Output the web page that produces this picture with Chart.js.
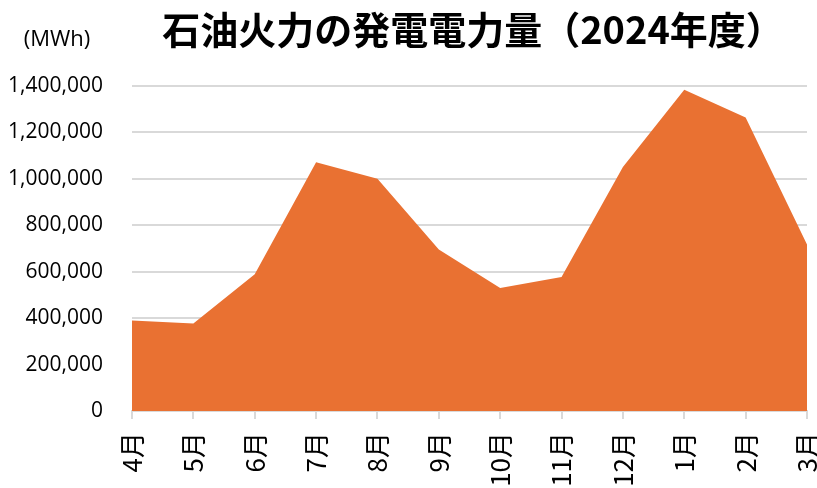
<!DOCTYPE html>
<html>
<head>
<meta charset="utf-8">
<script src="https://cdn.jsdelivr.net/npm/chart.js@4"></script>
<style>
  html, body { margin: 0; padding: 0; background: #fff; }
  #wrap { width: 817px; height: 488px; position: relative; }
</style>
</head>
<body>
<div id="wrap"><canvas id="oilChart"></canvas></div>
<script>
  // 石油火力の発電電力量 (MWh), 2024年度
  const months = ['4月', '5月', '6月', '7月', '8月', '9月', '10月', '11月', '12月', '1月', '2月', '3月'];
  const generation = [390000, 377000, 589000, 1072000, 1001000, 696000, 530000, 577000, 1051000, 1384000, 1264000, 717000];
  const yTicks = [0, 200000, 400000, 600000, 800000, 1000000, 1200000, 1400000];

  const chartTitle = '石油火力の発電電力量（2024年度）';
  const unitLabel = '(MWh)';

  const fontJP = '"Noto Sans CJK JP", "Noto Sans", sans-serif';
  const fontNum = '"Open Sans", "Noto Sans", sans-serif';

  const headerPlugin = {
      id: 'header',
      afterDraw: (chart) => {
          const ctx = chart.ctx;
          ctx.save();
          ctx.fillStyle = '#000';
          ctx.textBaseline = 'middle';
          ctx.textAlign = 'center';
          ctx.font = 'bold 38px ' + fontJP;
          ctx.fillText(chartTitle, 473, 30);
          ctx.font = '22px ' + fontNum;
          ctx.fillText(unitLabel, 57, 40);
          ctx.restore();
      }
  };

  const ctx = document.getElementById('oilChart').getContext('2d');
  const oilChart = new Chart(ctx, {
      type: 'line',
      data: {
          labels: months,
          datasets: [{
              label: '石油火力',
              data: generation,
              backgroundColor: '#E97132',
              borderWidth: 0,
              pointRadius: 0,
              tension: 0,
              fill: 'origin'
          }]
      },
      options: {
          responsive: true,
          maintainAspectRatio: false,
          animation: false,
          layout: {
              padding: { top: 86, right: 10, bottom: 0, left: 0 }
          },
          plugins: {
              legend: { display: false },
              tooltip: { enabled: false }
          },
          scales: {
              x: {
                  offset: false,
                  grid: { drawOnChartArea: false, color: '#d9d9d9', lineWidth: 2, tickLength: 8 },
                  border: { color: '#d9d9d9', width: 2 },
                  ticks: {
                      color: '#000',
                      minRotation: 90,
                      maxRotation: 90,
                      padding: 13,
                      font: { family: fontJP, size: 26 }
                  },
                  afterFit: (scale) => {
                      scale.height = 77;
                      scale.paddingLeft = 0;
                      scale.paddingRight = 0;
                  }
              },
              y: {
                  min: 0,
                  max: 1400000,
                  afterBuildTicks: (scale) => {
                      scale.ticks = yTicks.map(v => ({ value: v }));
                  },
                  grid: { color: '#d9d9d9', lineWidth: 2, drawTicks: false },
                  border: { display: false },
                  ticks: {
                      color: '#000',
                      padding: 29,
                      font: { family: fontNum, size: 21 },
                      callback: (v) => v.toLocaleString('en-US')
                  },
                  afterFit: (scale) => {
                      scale.width = 132;
                  }
              }
          }
      },
      plugins: [headerPlugin]
  });
</script>
</body>
</html>
